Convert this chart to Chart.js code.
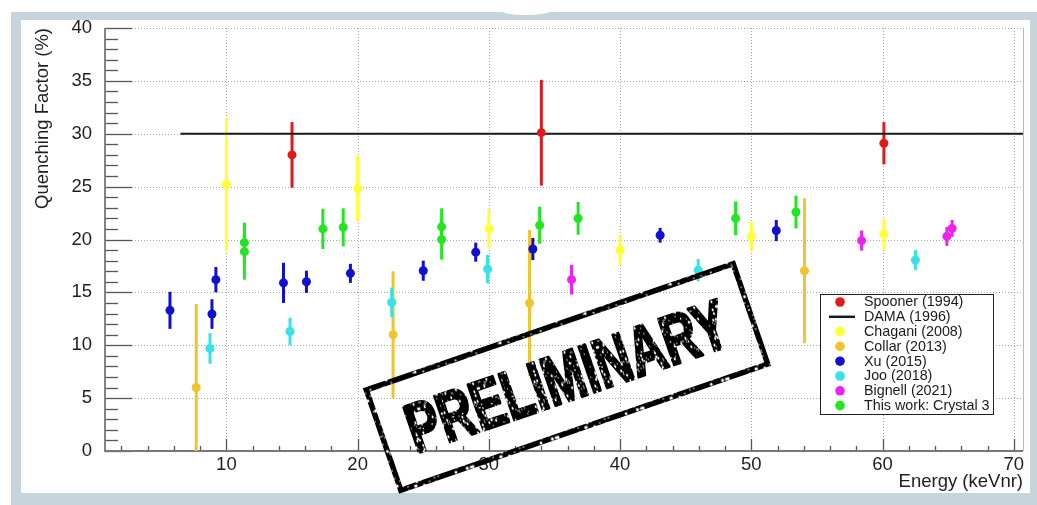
<!DOCTYPE html>
<html>
<head>
<meta charset="utf-8">
<script src="https://cdn.jsdelivr.net/npm/chart.js@4.4.1/dist/chart.umd.min.js"></script>
<style>
  html, body { margin: 0; padding: 0; background: #fff; overflow: hidden; }
  #wrap { width: 1037px; height: 505px; position: relative; }
  canvas { display: block; }
</style>
</head>
<body>
<div id="wrap"><canvas id="qf" width="1037" height="505"></canvas></div>
<script>
// Quenching factor measurements: energy (keVnr), QF (%), symmetric uncertainty (%)
const spoonerE   = [15.0, 34.0, 60.1];
const spoonerQ   = [28.0, 30.1, 29.1];
const spoonerErr = [3.1, 5.0, 2.0];

const damaE = [6.5, 70.7];
const damaQ = [30, 30];

const chaganiE   = [10.0, 20.0, 30.0, 40.0, 50.0, 60.1];
const chaganiQ   = [25.2, 24.8, 21.0, 19.0, 20.3, 20.5];
const chaganiErr = [6.3, 3.1, 1.85, 1.4, 1.35, 1.4];

const collarE   = [7.7, 22.7, 33.1, 54.05];
const collarQ   = [6.0, 11.0, 14.0, 17.05];
const collarErr = [7.9, 6.0, 6.9, 6.85];

const xuE   = [5.7, 8.9, 9.2, 14.35, 16.1, 19.45, 25.0, 29.0, 33.35, 43.05, 51.9];
const xuQ   = [13.3, 12.95, 16.2, 15.9, 16.0, 16.8, 17.05, 18.8, 19.1, 20.4, 20.85];
const xuErr = [1.75, 1.4, 1.2, 1.9, 1.05, 0.9, 0.95, 0.9, 1.05, 0.7, 1.0];

const jooE   = [8.75, 14.85, 22.6, 29.9, 45.95, 62.5];
const jooQ   = [9.7, 11.3, 14.05, 17.2, 17.1, 18.05];
const jooErr = [1.45, 1.3, 1.4, 1.35, 1.05, 0.95];

const bignellE   = [36.3, 58.4, 64.9, 65.3];
const bignellQ   = [16.2, 19.9, 20.3, 21.05];
const bignellErr = [1.4, 0.95, 0.9, 0.8];

const crystal3E   = [11.37, 11.37, 17.35, 18.9, 26.4, 26.4, 33.87, 36.8, 48.8, 53.4];
const crystal3Q   = [19.7, 18.85, 21.0, 21.15, 21.2, 20.0, 21.35, 22.0, 22.0, 22.6];
const crystal3Err = [1.9, 2.65, 1.9, 1.8, 1.75, 1.9, 1.75, 1.55, 1.6, 1.55];

const xTicks = [10, 20, 30, 40, 50, 60, 70];
const yTicks = [0, 5, 10, 15, 20, 25, 30, 35, 40];

const X_MIN = 0.75, X_MAX = 70.7, Y_MIN = 0, Y_MAX = 40;
const FONT = '"Liberation Sans", Arial, Helvetica, sans-serif';
const INK = '#1e1e1e';

function pts(xs, ys) { return xs.map((x, i) => ({ x: x, y: ys[i] })); }

function series(label, color, xs, ys, errs) {
  return {
    type: 'scatter',
    label: label,
    data: pts(xs, ys),
    errors: errs,
    backgroundColor: color,
    borderColor: color,
    pointRadius: 4.5,
    pointBorderWidth: 0,
    pointHoverRadius: 4.5,
    order: 1
  };
}

const datasets = [
  series('Spooner (1994)', '#e01a1a', spoonerE, spoonerQ, spoonerErr),
  {
    type: 'line', label: 'DAMA (1996)', data: pts(damaE, damaQ),
    borderColor: '#1a1a1a', borderWidth: 2.2, pointRadius: 0, fill: false, order: 5
  },
  series('Chagani (2008)', '#ffff33', chaganiE, chaganiQ, chaganiErr),
  series('Collar (2013)', '#f0c42c', collarE, collarQ, collarErr),
  series('Xu (2015)', '#1010d0', xuE, xuQ, xuErr),
  series('Joo (2018)', '#33e3e6', jooE, jooQ, jooErr),
  series('Bignell (2021)', '#ee22ee', bignellE, bignellQ, bignellErr),
  series('This work: Crystal 3', '#22e622', crystal3E, crystal3Q, crystal3Err)
];

// Page frame behind the canvas content
const framePlugin = {
  id: 'frame',
  beforeDraw(chart) {
    const ctx = chart.ctx;
    ctx.save();
    ctx.fillStyle = '#ffffff';
    ctx.fillRect(0, 0, chart.width, chart.height);
    ctx.fillStyle = '#c8d4dc';
    ctx.fillRect(11, 12, chart.width - 11, chart.height - 12);
    ctx.fillStyle = '#ffffff';
    ctx.fillRect(21, 20, 1009, 473);
    ctx.beginPath();
    ctx.ellipse(526, 11, 24, 4, 0, 0, Math.PI * 2);
    ctx.fill();
    ctx.restore();
  }
};

// Dotted grid, inward tick marks, axis lines and vertical error bars
const axesPlugin = {
  id: 'rootAxes',
  beforeDatasetsDraw(chart) {
    const ctx = chart.ctx;
    const xs = chart.scales.x, ys = chart.scales.y;
    const a = chart.chartArea;
    ctx.save();
    // grid
    ctx.strokeStyle = '#a8a8a8';
    ctx.lineWidth = 1;
    ctx.setLineDash([1, 2]);
    yTicks.forEach(v => {
      if (v === Y_MIN) return;
      const p = Math.round(ys.getPixelForValue(v)) + 0.5;
      ctx.beginPath(); ctx.moveTo(a.left, p); ctx.lineTo(a.right, p); ctx.stroke();
    });
    xTicks.forEach(v => {
      const p = Math.round(xs.getPixelForValue(v)) + 0.5;
      ctx.beginPath(); ctx.moveTo(p, a.top); ctx.lineTo(p, a.bottom); ctx.stroke();
    });
    ctx.setLineDash([]);
    // right frame edge
    ctx.strokeStyle = '#b8b8b8';
    ctx.beginPath(); ctx.moveTo(a.right + 0.5, a.top); ctx.lineTo(a.right + 0.5, a.bottom); ctx.stroke();
    // y ticks (every unit, longer every 5)
    ctx.strokeStyle = '#555';
    ctx.lineWidth = 1.3;
    for (let v = Y_MIN; v <= Y_MAX; v += 1) {
      const p = Math.round(ys.getPixelForValue(v)) + 0.5;
      const len = (v % 5 === 0) ? 27 : 13;
      ctx.beginPath(); ctx.moveTo(a.left, p); ctx.lineTo(a.left + len, p); ctx.stroke();
    }
    // x ticks (every 2, longer every 10)
    for (let v = 2; v <= X_MAX; v += 2) {
      const p = Math.round(xs.getPixelForValue(v)) + 0.5;
      const len = (v % 10 === 0) ? 12 : 5;
      ctx.beginPath(); ctx.moveTo(p, a.bottom); ctx.lineTo(p, a.bottom - len); ctx.stroke();
    }
    // axis lines
    ctx.strokeStyle = '#777';
    ctx.lineWidth = 1.8;
    ctx.beginPath();
    ctx.moveTo(a.left, a.top); ctx.lineTo(a.left, a.bottom); ctx.lineTo(a.right, a.bottom);
    ctx.stroke();

    // error bars
    ctx.beginPath(); ctx.rect(a.left, a.top, a.right - a.left, a.bottom - a.top); ctx.clip();
    ctx.lineWidth = 3;
    ctx.lineCap = 'butt';
    chart.data.datasets.forEach((ds, i) => {
      if (!ds.errors) return;
      const meta = chart.getDatasetMeta(i);
      ctx.strokeStyle = ds.borderColor;
      meta.data.forEach((el, j) => {
        const q = ds.data[j].y, e = ds.errors[j];
        const x = el.x;
        ctx.beginPath();
        ctx.moveTo(x, ys.getPixelForValue(q + e));
        ctx.lineTo(x, ys.getPixelForValue(q - e));
        ctx.stroke();
      });
    });
    ctx.restore();
  }
};

// Deterministic ink texture for the rubber stamp
function stampPattern(ctx) {
  const c = document.createElement('canvas');
  c.width = 90; c.height = 90;
  const g = c.getContext('2d');
  g.fillStyle = '#000';
  g.fillRect(0, 0, 90, 90);
  g.fillStyle = '#fff';
  let s = 12345;
  for (let k = 0; k < 260; k++) {
    s = (s * 1103515245 + 12345) & 0x7fffffff;
    const px = s % 90;
    s = (s * 1103515245 + 12345) & 0x7fffffff;
    const py = s % 90;
    const r = (s >> 8) % 3 === 0 ? 1.4 : 0.8;
    g.beginPath(); g.arc(px, py, r, 0, Math.PI * 2); g.fill();
  }
  return ctx.createPattern(c, 'repeat');
}

// Legend box and stamp on top of the plot
const overlayPlugin = {
  id: 'overlay',
  afterDraw(chart) {
    const ctx = chart.ctx;
    ctx.save();
    // legend
    const lx = 820, ly = 294, lw = 173, lh = 120;
    ctx.fillStyle = '#fff';
    ctx.fillRect(lx, ly, lw, lh);
    ctx.strokeStyle = '#222';
    ctx.lineWidth = 1;
    ctx.strokeRect(lx + 0.5, ly + 0.5, lw, lh);
    ctx.font = '14.3px ' + FONT;
    ctx.textBaseline = 'middle';
    ctx.textAlign = 'left';
    chart.data.datasets.forEach((ds, i) => {
      const y = ly + 8 + i * 14.8;
      if (ds.type === 'line') {
        ctx.strokeStyle = ds.borderColor;
        ctx.lineWidth = 2.5;
        ctx.beginPath(); ctx.moveTo(829, y); ctx.lineTo(855, y); ctx.stroke();
      } else {
        ctx.fillStyle = ds.backgroundColor;
        ctx.beginPath(); ctx.arc(840, y, 4.8, 0, Math.PI * 2); ctx.fill();
      }
      ctx.fillStyle = '#1a1a1a';
      ctx.fillText(ds.label, 864, y + 0.5);
    });

    // stamp
    const pat = stampPattern(ctx);
    ctx.translate(567, 377);
    ctx.rotate(-19 * Math.PI / 180);
    ctx.strokeStyle = pat;
    ctx.lineWidth = 5.5;
    ctx.strokeRect(-194, -53, 388, 106);
    ctx.scale(0.7, 1);
    ctx.font = 'bold 70px ' + FONT;
    ctx.textAlign = 'center';
    ctx.textBaseline = 'middle';
    ctx.fillStyle = pat;
    ctx.lineWidth = 3;
    ctx.lineJoin = 'round';
    ctx.fillText('PRELIMINARY', 0, 4);
    ctx.strokeText('PRELIMINARY', 0, 4);
    ctx.restore();
  }
};

new Chart(document.getElementById('qf'), {
  data: { datasets: datasets },
  options: {
    responsive: false,
    animation: false,
    devicePixelRatio: 1,
    layout: { padding: { left: 0, top: 28, right: 14, bottom: 0 } },
    plugins: { legend: { display: false }, tooltip: { enabled: false } },
    scales: {
      x: {
        type: 'linear',
        min: X_MIN, max: X_MAX,
        afterBuildTicks: s => { s.ticks = xTicks.map(v => ({ value: v })); },
        afterFit: s => { s.height = 54; },
        grid: { display: false },
        border: { display: false },
        ticks: { font: { size: 18.5, family: FONT }, color: INK, padding: -5, maxRotation: 0, autoSkip: false },
        title: {
          display: true, text: 'Energy (keVnr)', align: 'end', color: INK,
          font: { size: 18.5, family: FONT }, padding: { top: 0, bottom: 12 }
        }
      },
      y: {
        type: 'linear',
        min: Y_MIN, max: Y_MAX,
        afterBuildTicks: s => { s.ticks = yTicks.map(v => ({ value: v })); },
        afterFit: s => { s.width = 105; },
        grid: { display: false },
        border: { display: false },
        ticks: { font: { size: 18.5, family: FONT }, color: INK, padding: 5, autoSkip: false },
        title: {
          display: true, text: 'Quenching Factor (%)', align: 'end', color: INK,
          font: { size: 18.5, family: FONT }, padding: { top: 32, bottom: 0 }
        }
      }
    }
  },
  plugins: [framePlugin, axesPlugin, overlayPlugin]
});
</script>
</body>
</html>
